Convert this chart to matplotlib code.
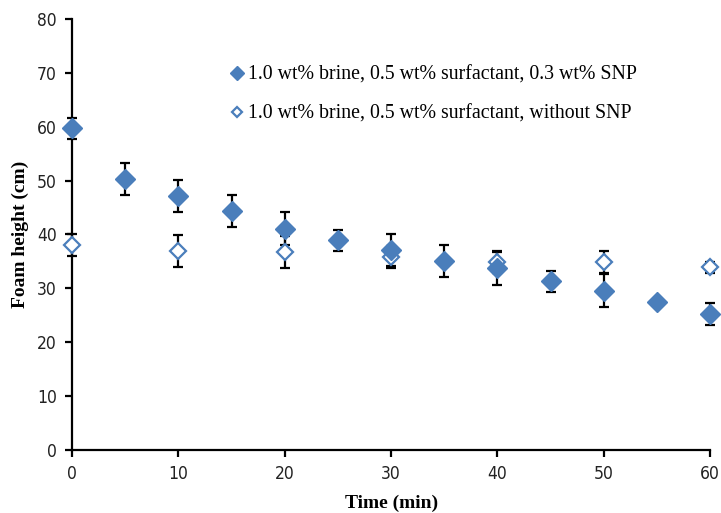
import matplotlib
matplotlib.use('Agg')
import matplotlib.pyplot as plt

# data
t_snp = [0, 5, 10, 15, 20, 25, 30, 35, 40, 45, 50, 55, 60]
h_snp = [59.7, 50.3, 47.2, 44.4, 41.1, 38.9, 37.1, 35.1, 33.7, 31.3, 29.6, 27.4, 25.2]
e_snp = [2.0, 3.0, 3.0, 3.0, 3.0, 2.0, 3.0, 3.0, 3.0, 2.0, 3.0, 0.7, 2.0]

t_no = [0, 10, 20, 30, 40, 50, 60]
h_no = [38.0, 36.9, 36.8, 35.8, 34.9, 34.9, 33.9]
e_no = [2.0, 3.0, 3.0, 2.0, 2.0, 2.0, 1.0]

lab_snp = '1.0 wt% brine, 0.5 wt% surfactant, 0.3 wt% SNP'
lab_no = '1.0 wt% brine, 0.5 wt% surfactant, without SNP'

blue = '#4a7ebb'
serif = ['Liberation Serif', 'DejaVu Serif']

fig = plt.figure(figsize=(7.21, 5.13), dpi=100)
ax = fig.add_axes([0.0999, 0.1228, 0.885, 0.8402])

ax.errorbar(t_no, h_no, yerr=e_no, fmt='none', ecolor='black',
            elinewidth=1.6, capsize=3.5, capthick=1.6, zorder=2, clip_on=False)
ax.errorbar(t_snp, h_snp, yerr=e_snp, fmt='none', ecolor='black',
            elinewidth=1.6, capsize=3.5, capthick=1.6, zorder=2, clip_on=False)
p2, = ax.plot(t_no, h_no, linestyle='none', marker='D', markersize=8.5,
              markerfacecolor='white', markeredgecolor=blue, markeredgewidth=1.6,
              zorder=3, clip_on=False)
p1, = ax.plot(t_snp, h_snp, linestyle='none', marker='D', markersize=10.5,
              markerfacecolor=blue, markeredgecolor=blue, zorder=4, clip_on=False)

ax.set_xlim(0, 60)
ax.set_ylim(0, 80)
ax.set_xticks(range(0, 61, 10))
ax.set_yticks(range(0, 81, 10))

for s in ['top', 'right']:
    ax.spines[s].set_visible(False)
for s in ['left', 'bottom']:
    ax.spines[s].set_linewidth(1.6)
    ax.spines[s].set_color('black')
ax.tick_params(direction='out', length=5, width=1.6, labelsize=12.5, pad=6)
for lab in ax.get_xticklabels() + ax.get_yticklabels():
    lab.set_family('DejaVu Sans')
    lab.set_stretch('condensed')
    lab.set_color('#222222')

ax.set_xlabel('Time (min)', family=serif, fontweight='bold', fontsize=14, labelpad=8)
ax.set_ylabel('Foam height (cm)', family=serif, fontweight='bold', fontsize=14, labelpad=6)

leg = ax.legend([p1, p2], [lab_snp, lab_no], loc='upper left',
                bbox_to_anchor=(0.301, 0.899), bbox_transform=fig.transFigure,
                frameon=False, prop={'family': serif, 'size': 14.3},
                labelspacing=1.0, handlelength=0.6, handletextpad=0.25,
                markerscale=0.65, borderpad=0.2)

fig.savefig('out.png', dpi=100)
